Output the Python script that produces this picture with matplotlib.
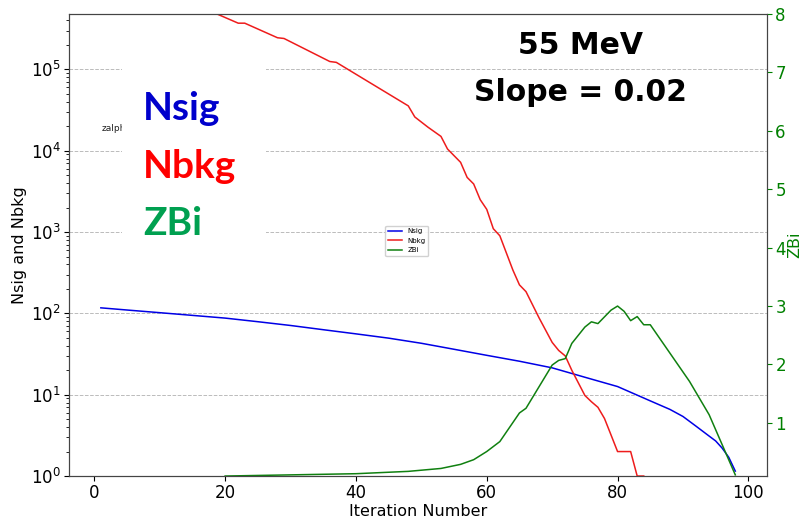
import matplotlib
matplotlib.use('Agg')
import matplotlib.pyplot as plt
from matplotlib.patches import Rectangle

# Nsig vs iteration
sig_iter = [1, 5, 10, 15, 20, 25, 30, 35, 40, 45, 50, 55, 60, 65, 70, 75, 80,
            85, 88, 90, 92, 94, 95, 96, 97, 98]
nsig = [117, 110, 102, 94.5, 87.5, 79, 71, 63, 56, 49.6, 42.9, 36.2, 30.5, 25.8,
        21.4, 16.4, 12.6, 8.4, 6.6, 5.4, 4.1, 3.1, 2.7, 2.2, 1.7, 1.15]

# Nbkg vs iteration (leaves the top of the axis before ~18)
bkg_iter = [1, 10, 18, 22, 23, 28, 29, 36, 37, 48, 49, 51, 53, 54, 56, 57, 58,
            59, 60, 61, 62, 64, 65, 66, 68, 70, 71, 72, 73, 75, 76, 77, 78, 79,
            80, 81, 82, 83, 84]
nbkg = [1.6e6, 9.5e5, 5.1e5, 3.7e5, 3.7e5, 2.45e5, 2.4e5, 1.25e5, 1.22e5, 3.56e4,
        2.6e4, 1.95e4, 1.5e4, 1.05e4, 7.2e3, 4.7e3, 3.9e3, 2.5e3, 1.9e3, 1.1e3,
        900, 340, 224, 185, 88, 44, 35, 30, 20, 9.8, 8.2, 7.0, 5.1, 3.2,
        2, 2, 2, 1, 1]

# ZBi vs iteration (right axis)
z_iter = [20, 30, 40, 44, 48, 53, 56, 58, 60, 62, 65, 66, 68, 70, 71, 72, 73, 75,
          76, 77, 79, 80, 81, 82, 83, 84, 85, 91, 94, 98]
zbi = [0.09, 0.11, 0.13, 0.15, 0.17, 0.22, 0.29, 0.37, 0.51, 0.68, 1.17, 1.25,
       1.62, 1.99, 2.07, 2.10, 2.36, 2.64, 2.73, 2.70, 2.93, 3.00, 2.91, 2.75,
       2.82, 2.68, 2.68, 1.71, 1.14, 0.11]

fig = plt.figure(figsize=(8.04, 5.18), dpi=100)
ax = fig.add_axes([0.086, 0.081, 0.868, 0.892])
ax2 = ax.twinx()

l1, = ax.plot(sig_iter, nsig, color='#0000e6', lw=1.1, label='Nsig')
l2, = ax.plot(bkg_iter, nbkg, color='#ee1c1c', lw=1.1, label='Nbkg')
l3, = ax2.plot(z_iter, zbi, color='#108010', lw=1.1, label='ZBi')

ax.set_yscale('log')
ax.set_ylim(1, 4.8e5)
ax.set_xlim(-3.85, 102.85)
ax.set_xlabel('Iteration Number', fontsize=11.5, labelpad=1)
ax.set_ylabel('Nsig and Nbkg', fontsize=11.5, labelpad=3)
ax.tick_params(labelsize=12, pad=2.5)
ax.grid(axis='y', which='major', linestyle='--', color='#bbbbbb', linewidth=0.7)

ax2.set_ylim(0.09, 8)
ax2.set_yticks([1, 2, 3, 4, 5, 6, 7, 8])
ax2.set_ylabel('ZBi', fontsize=11.5, color='green', labelpad=1)
ax2.tick_params(axis='y', labelsize=12, colors='green', pad=2.5)

for a in (ax, ax2):
    for s in a.spines.values():
        s.set_color('#444444')

# small clipped label hidden by the white text panel
ax.text(0.046, 0.753, 'zalpha', transform=ax.transAxes, fontsize=6.5,
        va='center', ha='left', color='#222222')

# white panel with the coloured names
ax2.add_patch(Rectangle((0.076, 0.50), 0.206, 0.41, transform=ax.transAxes,
                        facecolor='white', edgecolor='none', zorder=3))
big = dict(transform=ax.transAxes, fontsize=28, fontweight='bold',
           family='Lato', ha='left', va='baseline', zorder=4)
ax2.text(0.106, 0.771, 'Nsig', color='#0000cc', **big)
ax2.text(0.106, 0.645, 'Nbkg', color='#ff0000', **big)
ax2.text(0.106, 0.522, 'ZBi', color='#00a050', **big)

ax2.text(0.733, 0.913, '55 MeV', transform=ax.transAxes, fontsize=21.5,
         fontweight='bold', ha='center', va='baseline')
ax2.text(0.733, 0.812, 'Slope = 0.02', transform=ax.transAxes, fontsize=21.5,
         fontweight='bold', ha='center', va='baseline')

ax2.legend(handles=[l1, l2, l3], loc='center', bbox_to_anchor=(0.484, 0.509),
           fontsize=5, framealpha=0.9)

plt.savefig('out.png', dpi=100)
plt.close()
